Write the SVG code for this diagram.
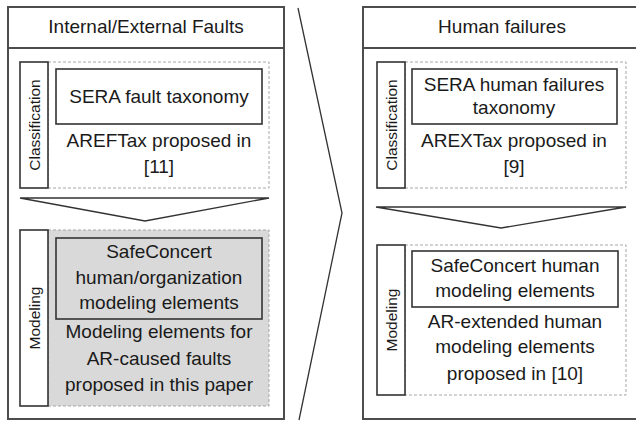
<svg xmlns="http://www.w3.org/2000/svg" width="636" height="424" viewBox="0 0 636 424">
  <style>
    .panel { fill: #ffffff; stroke: #4d4d4d; stroke-width: 2; }
    .zone { fill: none; stroke: #a6a6a6; stroke-width: 1; stroke-dasharray: 3 2; }
    .zone.shaded { fill: #d9d9d9; }
    .tag { fill: #ffffff; stroke: #333333; stroke-width: 1.6; }
    .box { fill: #ffffff; stroke: #333333; stroke-width: 1.6; }
    .box.shaded { fill: #d9d9d9; }
    .chev { fill: #ffffff; stroke: #333333; stroke-width: 1.3; stroke-linejoin: miter; }
    text { font-family: "Liberation Sans", Arial, sans-serif; fill: #1a1a1a; text-anchor: middle; }
    .t { font-size: 19px; }
    .v { font-size: 15.5px; }
  </style>

  <!-- Left column: internal/external faults -->
  <g id="faults">
    <rect class="panel" x="8" y="7" width="276" height="412"/>
    <line x1="8" y1="48" x2="284" y2="48" stroke="#4d4d4d" stroke-width="2"/>
    <text class="t" x="146" y="33">Internal/External Faults</text>
  </g>

  <g id="faults-classification">
    <rect class="zone" x="48" y="62" width="221" height="126"/>
    <rect class="tag" x="20" y="62" width="28" height="126"/>
    <text class="v" transform="translate(40 125) rotate(-90)">Classification</text>
    <rect class="box" x="56" y="69" width="206" height="55"/>
    <text class="t" x="159" y="103">SERA fault taxonomy</text>
    <text class="t" x="159" y="147">AREFTax proposed in</text>
    <text class="t" x="159" y="173">[11]</text>
  </g>

  <g id="faults-modeling">
    <rect class="zone shaded" x="48" y="230" width="221" height="176"/>
    <rect class="tag" x="20" y="230" width="28" height="176"/>
    <text class="v" transform="translate(40 318) rotate(-90)">Modeling</text>
    <rect class="box shaded" x="56" y="238" width="206" height="81"/>
    <text class="t" x="159" y="258">SafeConcert</text>
    <text class="t" x="159" y="284">human/organization</text>
    <text class="t" x="159" y="309">modeling elements</text>
    <text class="t" x="159" y="338">Modeling elements for</text>
    <text class="t" x="159" y="365">AR-caused faults</text>
    <text class="t" x="159" y="391">proposed in this paper</text>
  </g>

  <!-- Right column: human failures -->
  <g id="human">
    <rect class="panel" x="363" y="7" width="290" height="412"/>
    <line x1="363" y1="48" x2="653" y2="48" stroke="#4d4d4d" stroke-width="2"/>
    <text class="t" x="502" y="33">Human failures</text>
  </g>

  <g id="human-classification">
    <rect class="zone" x="405" y="62" width="221" height="126"/>
    <rect class="tag" x="377" y="62" width="28" height="126"/>
    <text class="v" transform="translate(397 125) rotate(-90)">Classification</text>
    <rect class="box" x="412" y="69" width="205" height="55"/>
    <text class="t" x="514" y="91">SERA human failures</text>
    <text class="t" x="514" y="114">taxonomy</text>
    <text class="t" x="514" y="147">AREXTax proposed in</text>
    <text class="t" x="514" y="173">[9]</text>
  </g>

  <g id="human-modeling">
    <rect class="zone" x="405" y="245" width="221" height="150"/>
    <rect class="tag" x="377" y="245" width="28" height="150"/>
    <text class="v" transform="translate(397 320) rotate(-90)">Modeling</text>
    <rect class="box" x="412" y="251" width="206" height="56"/>
    <text class="t" x="515" y="272">SafeConcert human</text>
    <text class="t" x="515" y="297">modeling elements</text>
    <text class="t" x="515" y="328">AR-extended human</text>
    <text class="t" x="515" y="353">modeling elements</text>
    <text class="t" x="515" y="380">proposed in [10]</text>
  </g>

  <!-- Flow chevrons -->
  <g id="connectors">
    <polyline class="chev" fill="none" points="298,8 342,213 299,420"/>
    <polygon class="chev" points="20,198 269,198 145,221"/>
    <polygon class="chev" points="376,207 626,207 501,228"/>
  </g>
</svg>
